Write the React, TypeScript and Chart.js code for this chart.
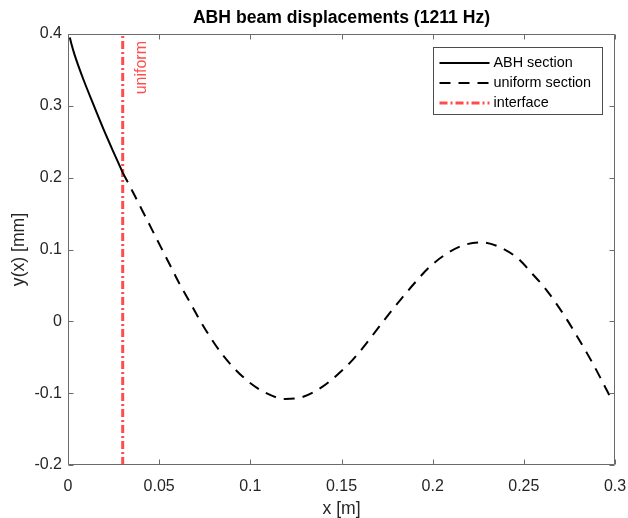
import React, { useEffect, useRef } from 'react';
import { Chart, registerables } from 'chart.js';

Chart.register(...registerables);

// ---- data ----
const abhX = [0.001, 0.002, 0.0035, 0.0055, 0.0084, 0.0139, 0.0194, 0.0249, 0.03];
const abhY = [0.395, 0.385, 0.372, 0.357, 0.337, 0.302, 0.268, 0.236, 0.207];

const uniformX = [
  0.03, 0.036, 0.041, 0.046, 0.051, 0.056, 0.061, 0.067, 0.072, 0.078, 0.084, 0.091, 0.099, 0.108,
  0.119, 0.129, 0.139, 0.147, 0.156, 0.162, 0.169, 0.176, 0.183, 0.19, 0.198, 0.207, 0.217, 0.227,
  0.237, 0.247, 0.254, 0.262, 0.268, 0.274, 0.279, 0.285, 0.29, 0.2955, 0.2975,
];
const uniformY = [
  0.207, 0.178, 0.153, 0.128, 0.103, 0.078, 0.053, 0.026, 0.003, -0.022, -0.044, -0.065, -0.084, -0.099,
  -0.108, -0.105, -0.092, -0.076, -0.054, -0.036, -0.013, 0.01, 0.032, 0.053, 0.075, 0.093, 0.106, 0.11,
  0.103, 0.087, 0.068, 0.045, 0.024, 0.001, -0.02, -0.046, -0.069, -0.096, -0.106,
];

const interfaceX = [0.03, 0.03];
const interfaceY = [-0.2, 0.4];

const xTickValues = [0, 0.05, 0.1, 0.15, 0.2, 0.25, 0.3];
const xTickLabels = ['0', '0.05', '0.1', '0.15', '0.2', '0.25', '0.3'];
const yTickValues = [-0.2, -0.1, 0, 0.1, 0.2, 0.3, 0.4];
const yTickLabels = ['-0.2', '-0.1', '0', '0.1', '0.2', '0.3', '0.4'];

const seriesNames = ['ABH section', 'uniform section', 'interface'];
const titleText = 'ABH beam displacements (1211 Hz)';
const xTitleText = 'x [m]';
const yTitleText = 'y(x) [mm]';
const annotationText = 'uniform';
const annotationAt = { x: 0.03, y: 0.316 };

// ---- styles ----
const FONT = "'Liberation Sans', Arial, Helvetica, sans-serif";
const AXIS_COLOR = '#6b6b6b';
const TEXT_COLOR = '#262626';
const RED = '#ff4d4d';

const toPoints = (xs: number[], ys: number[]) => xs.map((x, i) => ({ x, y: ys[i] }));

const matlabPlugin = {
  id: 'matlabDecor',
  afterDraw(chart: any) {
    const { ctx, chartArea: a, scales } = chart;
    const xs = scales.x;
    const ys = scales.y;
    ctx.save();

    // frame
    const L = Math.round(a.left) + 0.5;
    const R = Math.round(a.right) - 0.5;
    const T = Math.round(a.top) + 0.5;
    const B = Math.round(a.bottom) - 0.5;
    ctx.strokeStyle = AXIS_COLOR;
    ctx.lineWidth = 1;
    ctx.setLineDash([]);
    ctx.beginPath();
    ctx.rect(L, T, R - L, B - T);
    // inward ticks on all four sides
    const tl = 5;
    xTickValues.forEach((v) => {
      const p = Math.round(xs.getPixelForValue(v)) + 0.5;
      ctx.moveTo(p, B);
      ctx.lineTo(p, B - tl);
      ctx.moveTo(p, T);
      ctx.lineTo(p, T + tl);
    });
    yTickValues.forEach((v) => {
      const p = Math.round(ys.getPixelForValue(v)) + 0.5;
      ctx.moveTo(L, p);
      ctx.lineTo(L + tl, p);
      ctx.moveTo(R, p);
      ctx.lineTo(R - tl, p);
    });
    ctx.stroke();

    // title
    ctx.fillStyle = '#000';
    ctx.font = `bold 17.6px ${FONT}`;
    ctx.textAlign = 'center';
    ctx.textBaseline = 'middle';
    ctx.fillText(titleText, (a.left + a.right) / 2, 18);

    // annotation text (rotated)
    ctx.save();
    ctx.translate(xs.getPixelForValue(annotationAt.x) + 23, ys.getPixelForValue(annotationAt.y));
    ctx.rotate(-Math.PI / 2);
    ctx.fillStyle = RED;
    ctx.font = `16px ${FONT}`;
    ctx.textAlign = 'left';
    ctx.textBaseline = 'alphabetic';
    ctx.fillText(annotationText, 0, 0);
    ctx.restore();

    // legend
    const bw = 169;
    const bh = 67;
    const bx = Math.round(a.right - 13 - bw) + 0.5;
    const by = Math.round(a.top + 13) + 0.5;
    ctx.fillStyle = '#fff';
    ctx.fillRect(bx, by, bw, bh);
    ctx.strokeStyle = '#4d4d4d';
    ctx.lineWidth = 1;
    ctx.strokeRect(bx, by, bw, bh);
    chart.data.datasets.forEach((ds: any, i: number) => {
      const cy = by + 15.5 + i * 20;
      ctx.save();
      ctx.strokeStyle = ds.borderColor;
      ctx.lineWidth = ds.borderWidth;
      ctx.setLineDash(ds.borderDash || []);
      ctx.beginPath();
      ctx.moveTo(bx + 6, cy);
      ctx.lineTo(bx + 56, cy);
      ctx.stroke();
      ctx.restore();
      ctx.fillStyle = '#000';
      ctx.font = `14.4px ${FONT}`;
      ctx.textAlign = 'left';
      ctx.textBaseline = 'middle';
      ctx.fillText(ds.label, bx + 60, cy + 0.5);
    });

    ctx.restore();
  },
};

export default function App() {
  const ref = useRef<HTMLCanvasElement | null>(null);

  useEffect(() => {
    if (!ref.current) return;
    Chart.defaults.font.family = FONT;
    const chart = new Chart(ref.current, {
      type: 'line',
      data: {
        datasets: [
          {
            label: seriesNames[0],
            data: toPoints(abhX, abhY),
            borderColor: '#000',
            borderWidth: 2,
            borderDash: [],
            pointRadius: 0,
            cubicInterpolationMode: 'monotone',
            fill: false,
          },
          {
            label: seriesNames[1],
            data: toPoints(uniformX, uniformY),
            borderColor: '#000',
            borderWidth: 2,
            borderDash: [11, 8],
            pointRadius: 0,
            cubicInterpolationMode: 'monotone',
            fill: false,
          },
          {
            label: seriesNames[2],
            data: toPoints(interfaceX, interfaceY),
            borderColor: RED,
            borderWidth: 3,
            borderDash: [8, 3, 2, 3],
            pointRadius: 0,
            tension: 0,
            fill: false,
          },
        ],
      },
      options: {
        animation: false,
        responsive: false,
        events: [],
        layout: { padding: { top: 34, right: 13, left: 0, bottom: 0 } },
        plugins: {
          legend: { display: false },
          title: { display: false },
          tooltip: { enabled: false },
        },
        scales: {
          x: {
            type: 'linear',
            min: 0,
            max: 0.3,
            grid: { display: false, drawTicks: false },
            border: { display: false },
            afterBuildTicks: (s: any) => {
              s.ticks = xTickValues.map((v) => ({ value: v }));
            },
            afterFit: (s: any) => {
              s.height = 53;
              s.paddingLeft = 0;
              s.paddingRight = 0;
            },
            ticks: {
              autoSkip: false,
              maxRotation: 0,
              padding: 12,
              color: TEXT_COLOR,
              font: { size: 16, family: FONT },
              callback: (_v: any, i: number) => xTickLabels[i],
            },
            title: {
              display: true,
              text: xTitleText,
              color: TEXT_COLOR,
              font: { size: 17.6, family: FONT, lineHeight: 1 },
              padding: 0,
            },
          },
          y: {
            type: 'linear',
            min: -0.2,
            max: 0.4,
            grid: { display: false, drawTicks: false },
            border: { display: false },
            afterBuildTicks: (s: any) => {
              s.ticks = yTickValues.map((v) => ({ value: v }));
            },
            afterFit: (s: any) => {
              s.width = 68;
              s.paddingTop = 0;
              s.paddingBottom = 0;
            },
            ticks: {
              autoSkip: false,
              padding: 6,
              color: TEXT_COLOR,
              font: { size: 16, family: FONT },
              callback: (_v: any, i: number) => yTickLabels[i],
            },
            title: {
              display: true,
              text: yTitleText,
              color: TEXT_COLOR,
              font: { size: 17.6, family: FONT, lineHeight: 1 },
              padding: { top: 10, bottom: 0 },
            },
          },
        },
      },
      plugins: [matlabPlugin],
    });
    return () => chart.destroy();
  }, []);

  return (
    <div style={{ position: 'absolute', left: 0, top: 0, width: 628, height: 518, background: '#fff' }}>
      <canvas ref={ref} width={628} height={518} />
    </div>
  );
}
